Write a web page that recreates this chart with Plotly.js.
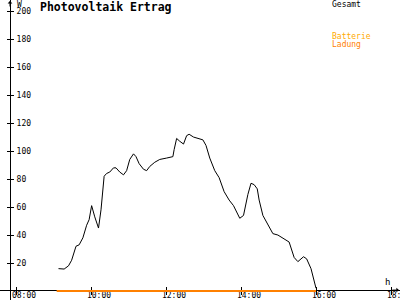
<!DOCTYPE html>
<html><head><meta charset="utf-8">
<script src="https://cdn.plot.ly/plotly-3.0.1.min.js"></script>
<style>html,body{margin:0;padding:0;background:#fff}#chart{width:400px;height:300px}</style>
</head><body><div id="chart"></div>
<script>
const gesamtTimes = ["09:08","09:13","09:17","09:24","09:29","09:36","09:41","09:47","09:53","09:57",
"10:01","10:06","10:12","10:16","10:21","10:25","10:30","10:36","10:40","10:46",
"10:52","10:57","11:02","11:08","11:12","11:17","11:24","11:29","11:34","11:42",
"11:50","12:01","12:11","12:13","12:17","12:22","12:28","12:33","12:37","12:44",
"12:52","12:59","13:04","13:10","13:18","13:25","13:33","13:41","13:48","13:58",
"14:04","14:11","14:16","14:21","14:26","14:29","14:35","14:43","14:51","14:59",
"15:07","15:17","15:25","15:31","15:40","15:45","15:52","15:58","16:00"];
const gesamtValues = [16,16,15.7,18,22,32,33,38,47,51,
61,53,45,58,82,84,85,88,88,85,
83,86,94,98,96,91,87,86,89,92,
94,95,96,101,109,107,105,111,112,110,
109,108,104,95,86,81,71,65,61,52,
54,69,77,76,73,65,54,47,41,40,
38,35,24,21,24.5,23,16,4,2];
const ladungTimes = ["09:05","16:00"];
const ladungValues = [0,0];
const xTickVals = ["08:00","10:00","12:00","14:00","16:00","18:00"];
const yTickVals = [20,40,60,80,100,120,140,160,180,200];

const toH = s => { const p = s.split(":"); return +p[0] + (+p[1])/60; };
const mono = "DejaVu Sans Mono, monospace";

const traces = [
  {x: ladungTimes.map(toH), y: ladungValues, type:"scatter", mode:"lines",
   line:{color:"#ff8000", width:2}, hoverinfo:"skip", cliponaxis:false},
  {x: gesamtTimes.map(toH), y: gesamtValues, type:"scatter", mode:"lines",
   line:{color:"#000", width:1}, hoverinfo:"skip"},
  {x: [], y: [], xaxis:"x2", yaxis:"y2", type:"scatter", mode:"lines", hoverinfo:"skip"}
];

const xr = [7.573, 18.24], yr = [-6.4, 207.9];
const xPos = 0.033, yPos = 0.025;
const layout = {
  width:400, height:300, margin:{l:0,r:0,t:0,b:0},
  paper_bgcolor:"#fff", plot_bgcolor:"#fff", showlegend:false,
  title:{text:"<b>Photovoltaik Ertrag</b>", x:0.1, xanchor:"left", y:0.99, yanchor:"top",
         font:{family:mono, size:11.5, color:"#000"}},
  xaxis:{range:xr, anchor:"free", position:xPos, showgrid:false, zeroline:false,
         showline:true, linecolor:"#000", linewidth:1, layer:"below traces",
         tickvals:xTickVals.map(toH), ticktext:xTickVals, ticks:"inside", ticklen:3, tickcolor:"#000",
         ticklabelstandoff:-3, ticklabelshift:8,
         tickfont:{family:mono, size:8, color:"#000"}, automargin:false, ticklabeloverflow:"allow"},
  yaxis:{range:yr, anchor:"free", position:yPos, side:"right", showgrid:false, zeroline:false,
         showline:true, linecolor:"#000", linewidth:1, layer:"below traces",
         tickvals:yTickVals, ticks:"outside", ticklen:3, tickcolor:"#000",
         ticklabelstandoff:1,
         tickfont:{family:mono, size:8, color:"#000"}, automargin:false, ticklabeloverflow:"allow"},
  xaxis2:{range:xr, overlaying:"x", anchor:"free", position:xPos, showgrid:false, zeroline:false,
          showline:false, tickvals:xTickVals.map(toH), ticks:"outside", ticklen:4, tickcolor:"#000",
          showticklabels:false, layer:"below traces"},
  yaxis2:{range:yr, overlaying:"y", anchor:"free", position:yPos, side:"left", showgrid:false, zeroline:false,
          showline:false, tickvals:yTickVals, ticks:"outside", ticklen:3, tickcolor:"#000",
          showticklabels:false},
  annotations:[
    {xref:"paper", yref:"paper", x:0.825, y:0.985, xanchor:"left", yanchor:"middle", showarrow:false,
     text:"Gesamt", font:{family:mono, size:8, color:"#000"}},
    {xref:"paper", yref:"paper", x:0.825, y:0.88, xanchor:"left", yanchor:"middle", showarrow:false,
     text:"Batterie", font:{family:mono, size:8, color:"#ffaa00"}},
    {xref:"paper", yref:"paper", x:0.825, y:0.853, xanchor:"left", yanchor:"middle", showarrow:false,
     text:"Ladung", font:{family:mono, size:8, color:"#ff8000"}},
    {xref:"paper", yref:"paper", x:0.038, y:0.985, xanchor:"left", yanchor:"middle", showarrow:false,
     text:"W", font:{family:mono, size:8, color:"#000"}},
    {xref:"paper", yref:"paper", x:0.968, y:0.06, xanchor:"center", yanchor:"middle", showarrow:false,
     text:"h", font:{family:mono, size:9, color:"#000"}},
    {xref:"paper", yref:"paper", x:yPos, y:1, ax:0, ay:8, showarrow:true, arrowhead:1, arrowsize:0.8,
     arrowwidth:1, arrowcolor:"#000", text:""},
    {xref:"paper", yref:"paper", x:0.997, y:xPos, ax:-8, ay:0, showarrow:true, arrowhead:1, arrowsize:0.8,
     arrowwidth:1, arrowcolor:"#000", text:""}
  ]
};
Plotly.newPlot("chart", traces, layout, {staticPlot:true, displayModeBar:false});
</script></body></html>
